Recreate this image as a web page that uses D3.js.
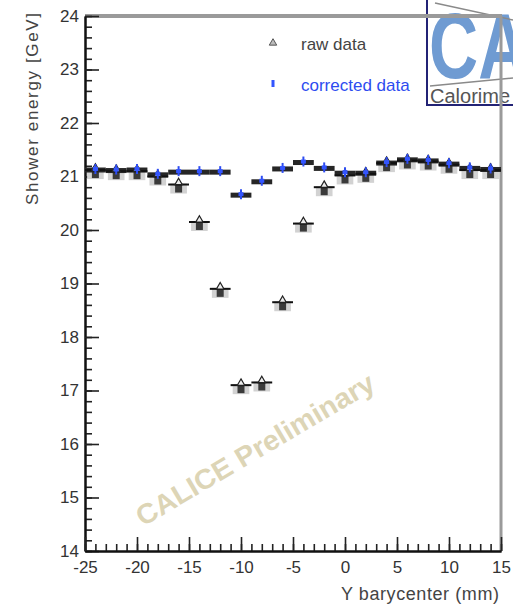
<!DOCTYPE html>
<html>
<head>
<meta charset="utf-8">
<script src="https://cdn.jsdelivr.net/npm/d3@7/dist/d3.min.js"></script>
<style>
  html, body { margin: 0; padding: 0; background: #fff; }
  svg { display: block; font-family: Arial, "Liberation Sans", Helvetica, sans-serif; }
</style>
</head>
<body>
<svg id="chart" width="513" height="606"></svg>
<script>
// Y barycenter bin centres (mm), 2 mm wide bins
const binCenters = [-24, -22, -20, -18, -16, -14, -12, -10, -8, -6, -4, -2, 0, 2, 4, 6, 8, 10, 12, 14];
// Mean shower energy before correction (GeV)
const rawEnergy = [21.12, 21.10, 21.10, 21.00, 20.85, 20.15, 18.90, 17.10, 17.15, 18.65,
                   20.12, 20.80, 21.02, 21.05, 21.25, 21.30, 21.28, 21.22, 21.12, 21.12];
// Mean shower energy after correction (GeV)
const correctedEnergy = [21.14, 21.13, 21.14, 21.05, 21.10, 21.10, 21.10, 20.67, 20.92, 21.16,
                         21.28, 21.17, 21.08, 21.08, 21.27, 21.33, 21.31, 21.25, 21.17, 21.15];
const binHalfWidth = 1;

const xTickValues = [-25, -20, -15, -10, -5, 0, 5, 10, 15];
const yTickValues = [14, 15, 16, 17, 18, 19, 20, 21, 22, 23, 24];
const legendLabels = ["raw data", "corrected data"];

const svg = d3.select("#chart");
const W = 513, H = 606;
svg.append("rect").attr("width", W).attr("height", H).attr("fill", "#fff");

const plotLeft = 85, plotRight = 501, plotTop = 16, plotBottom = 551;
const x = d3.scaleLinear().domain([-25, 15]).range([plotLeft, plotRight]);
const y = d3.scaleLinear().domain([14, 24]).range([plotBottom, plotTop]);

// ---- logo in the top-right corner (clipped to its frame) ----
svg.append("defs").append("clipPath").attr("id", "logoClip")
  .append("rect").attr("x", 427).attr("y", -3).attr("width", 86).attr("height", 108);
const logo = svg.append("g").attr("clip-path", "url(#logoClip)");
logo.append("text")
  .attr("transform", "translate(429,78) scale(0.74,1)")
  .attr("font-size", 92).attr("font-weight", "bold")
  .attr("fill", "#6f9bd2")
  .text("CA");
logo.append("line").attr("x1", 435).attr("y1", 3).attr("x2", 513).attr("y2", 20)
  .attr("stroke", "#8a8a8a").attr("stroke-width", 1.5);
logo.append("line").attr("x1", 430).attr("y1", 86).attr("x2", 513).attr("y2", 78)
  .attr("stroke", "#8a8a8a").attr("stroke-width", 1.5);
logo.append("text")
  .attr("x", 430).attr("y", 103)
  .attr("font-size", 20).attr("fill", "#555")
  .text("Calorime");
svg.append("rect")
  .attr("x", 427).attr("y", -3).attr("width", 100).attr("height", 108)
  .attr("fill", "none").attr("stroke", "#232375").attr("stroke-width", 2);

// ---- watermark ----
svg.append("text")
  .attr("transform", "translate(143,527) rotate(-30.6)")
  .attr("font-size", 28).attr("font-weight", "bold")
  .attr("fill", "#ddd5b6")
  .attr("textLength", 272).attr("lengthAdjust", "spacingAndGlyphs")
  .text("CALICE Preliminary");

// ---- frame (grey top and right edges) ----
svg.append("line").attr("x1", plotLeft).attr("x2", plotRight + 1).attr("y1", plotTop).attr("y2", plotTop)
  .attr("stroke", "#9a9a9a").attr("stroke-width", 4);
svg.append("line").attr("x1", plotRight).attr("x2", plotRight).attr("y1", plotTop).attr("y2", plotBottom)
  .attr("stroke", "#9a9a9a").attr("stroke-width", 3);

// ---- axes ----
const tickFont = 17;
const plainNumber = d => String(d);
const yMinor = d3.axisLeft(y).tickValues(d3.range(14, 24.001, 0.2)).tickSizeInner(-7).tickSizeOuter(0).tickFormat("");
const yMajor = d3.axisLeft(y).tickValues(yTickValues).tickSizeInner(-14).tickSizeOuter(0).tickPadding(6).tickFormat(plainNumber);
const xMinor = d3.axisBottom(x).tickValues(d3.range(-25, 15.001, 1)).tickSizeInner(-7).tickSizeOuter(0).tickFormat("");
const xMajor = d3.axisBottom(x).tickValues(xTickValues).tickSizeInner(-14).tickSizeOuter(0).tickPadding(10).tickFormat(plainNumber);

function styleAxis(g) {
  g.select(".domain").attr("stroke", "#111").attr("stroke-width", 2);
  g.selectAll(".tick line").attr("stroke", "#222").attr("stroke-width", 1.6);
  g.selectAll(".tick text").attr("font-size", tickFont).attr("fill", "#333")
    .attr("font-family", "Arial, 'Liberation Sans', sans-serif");
}
svg.append("g").attr("transform", `translate(${plotLeft},0)`).call(yMinor).call(styleAxis);
svg.append("g").attr("transform", `translate(${plotLeft},0)`).call(yMajor).call(styleAxis);
svg.append("g").attr("transform", `translate(0,${plotBottom})`).call(xMinor).call(styleAxis);
svg.append("g").attr("transform", `translate(0,${plotBottom})`).call(xMajor).call(styleAxis);

// axis titles
svg.append("text")
  .attr("transform", "translate(38,13) rotate(-90)")
  .attr("text-anchor", "end")
  .attr("font-size", 17).attr("fill", "#444")
  .attr("textLength", 192).attr("lengthAdjust", "spacing")
  .text("Shower energy [GeV]");
svg.append("text")
  .attr("x", 499).attr("y", 600)
  .attr("text-anchor", "end")
  .attr("font-size", 18).attr("fill", "#444")
  .attr("textLength", 158).attr("lengthAdjust", "spacing")
  .text("Y barycenter (mm)");

// ---- data ----
const rawData = binCenters.map((c, i) => ({ c, v: rawEnergy[i] }));
const corData = binCenters.map((c, i) => ({ c, v: correctedEnergy[i] }));
const plot = svg.append("g");

// grey systematic boxes under the raw points
plot.selectAll(".rawBox").data(rawData).enter().append("rect")
  .attr("x", d => x(d.c - 0.8)).attr("width", d => x(d.c + 0.8) - x(d.c - 0.8))
  .attr("y", d => y(d.v) - 1).attr("height", 10)
  .attr("fill", "#d2d2d2");
plot.selectAll(".rawCore").data(rawData).enter().append("rect")
  .attr("x", d => x(d.c) - 3.5).attr("width", 7)
  .attr("y", d => y(d.v)).attr("height", 8)
  .attr("fill", "#3a3a3a");

// corrected points: dark bin bars
plot.selectAll(".corBar").data(corData).enter().append("rect")
  .attr("x", d => x(d.c - binHalfWidth)).attr("width", d => x(d.c + binHalfWidth) - x(d.c - binHalfWidth))
  .attr("y", d => y(d.v) - 1.5).attr("height", 5)
  .attr("fill", "#262626");

// raw points: horizontal bin error bars and open triangles
plot.selectAll(".rawErr").data(rawData).enter().append("line")
  .attr("x1", d => x(d.c - binHalfWidth)).attr("x2", d => x(d.c + binHalfWidth))
  .attr("y1", d => y(d.v)).attr("y2", d => y(d.v))
  .attr("stroke", "#111").attr("stroke-width", 2);
const tri = d3.symbol().type(d3.symbolTriangle).size(24);
plot.selectAll(".rawMark").data(rawData).enter().append("path")
  .attr("d", tri)
  .attr("transform", d => `translate(${x(d.c)},${y(d.v) - 2})`)
  .attr("fill", "#eee").attr("stroke", "#222").attr("stroke-width", 1.2);

// corrected points: blue markers with small vertical error bars
plot.selectAll(".corErr").data(corData).enter().append("line")
  .attr("x1", d => x(d.c)).attr("x2", d => x(d.c))
  .attr("y1", d => y(d.v) - 5).attr("y2", d => y(d.v) + 5)
  .attr("stroke", "#2d4cf0").attr("stroke-width", 2);
plot.selectAll(".corMark").data(corData).enter().append("rect")
  .attr("x", d => x(d.c) - 2.5).attr("y", d => y(d.v) - 2)
  .attr("width", 5).attr("height", 4)
  .attr("fill", "#3355ff");

// ---- legend ----
const legend = svg.append("g");
legend.append("path").attr("d", tri).attr("transform", "translate(273,43)")
  .attr("fill", "#bbb").attr("stroke", "#555").attr("stroke-width", 1);
legend.append("text").attr("x", 301).attr("y", 50).attr("font-size", 17).attr("fill", "#444").text(legendLabels[0]);
legend.append("rect").attr("x", 271.5).attr("y", 80).attr("width", 3).attr("height", 7).attr("fill", "#3355ff");
legend.append("text").attr("x", 301).attr("y", 91).attr("font-size", 17).attr("fill", "#2d4cf0").text(legendLabels[1]);
</script>
</body>
</html>
